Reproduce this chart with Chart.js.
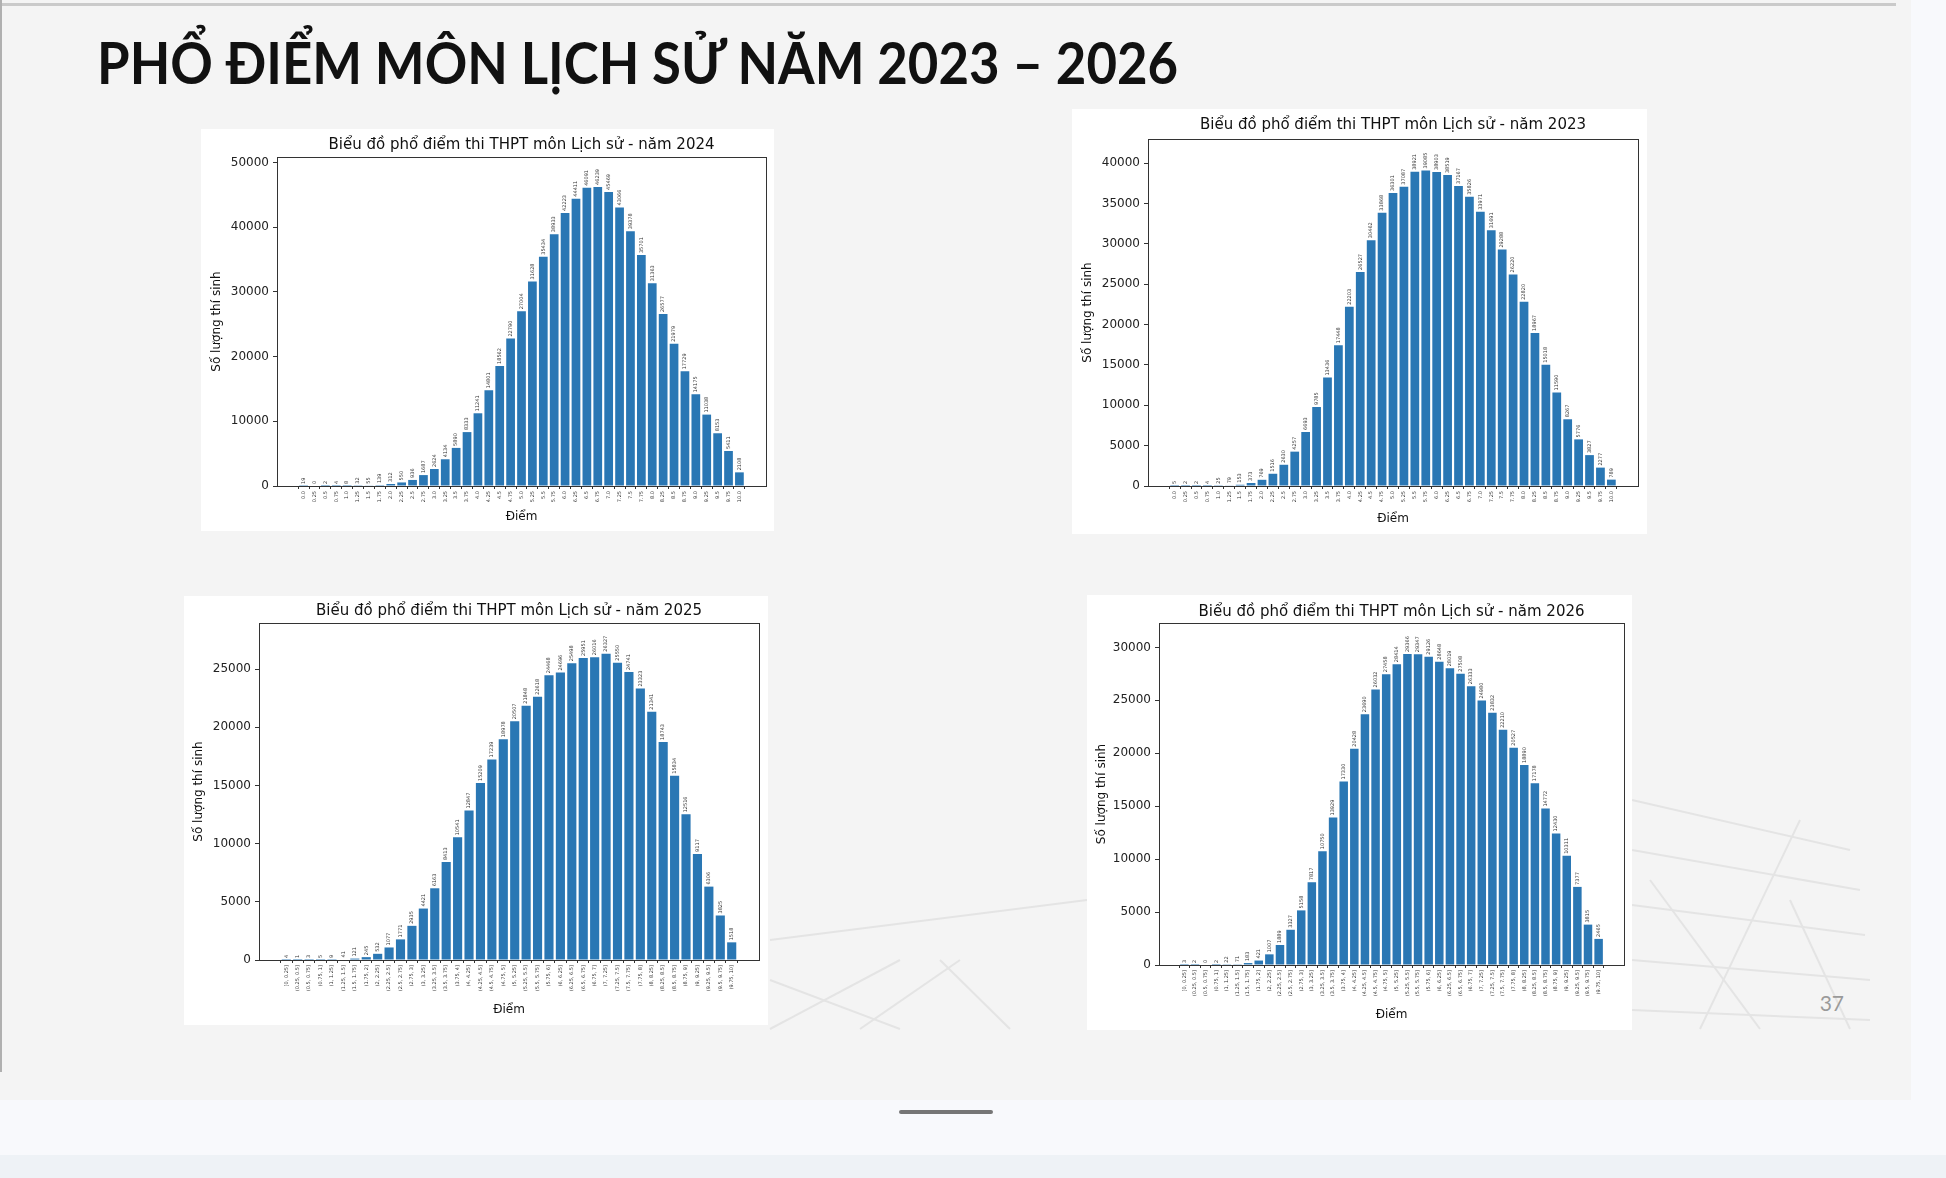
<!DOCTYPE html>
<html lang="vi">
<head>
<meta charset="utf-8">
<title>Phổ điểm môn Lịch sử</title>
<script src="https://cdn.jsdelivr.net/npm/chart.js@4.4.1/dist/chart.umd.min.js"></script>
<style>
  html, body { margin: 0; padding: 0; }
  body { width: 1946px; height: 1178px; position: relative; overflow: hidden; background: #eef2f6; }
  #duoi { position: absolute; left: 0; top: 0; width: 1946px; height: 1155px; background: #f8f9fc; }
  #slide { position: absolute; left: 0; top: 0; width: 1911px; height: 1100px; background: #f4f4f4; }
  #vienTren { position: absolute; left: 0; top: 3px; width: 1896px; height: 3px; background: #cacaca; }
  #vienTrai { position: absolute; left: 0; top: 0; width: 2px; height: 1072px; background: #b0b0b0; }
  #luoi { position: absolute; left: 0; top: 0; }
  #tieuDe {
    position: absolute; left: 97px; top: 34px; margin: 0;
    font-family: "Lato", "Open Sans", sans-serif; font-weight: 700; font-size: 57px; line-height: 1;
    color: #111; white-space: nowrap;
    transform: scaleX(0.925); transform-origin: 0 0;
  }
  .khung { position: absolute; background: #fff; }
  .khung canvas { display: block; }
  #soTrang { position: absolute; left: 1790px; top: 990px; width: 54px; text-align: right;
    font-family: "Lato", sans-serif; font-size: 21px; color: #9a9a9a; }
  #thanhKeo { position: absolute; left: 899px; top: 1110px; width: 94px; height: 4px; border-radius: 2px; background: #767676; }
</style>
</head>
<body>
<div id="duoi"></div>
<div id="slide"></div>
<svg id="luoi" width="1946" height="1100">
  <g stroke="#e4e4e4" stroke-width="2" fill="none">
    <line x1="770" y1="980" x2="900" y2="1029"/>
    <line x1="770" y1="1029" x2="900" y2="960"/>
    <line x1="860" y1="1029" x2="960" y2="960"/>
    <line x1="940" y1="960" x2="1010" y2="1029"/>
    <line x1="770" y1="940" x2="1087" y2="900"/>
    <line x1="1632" y1="800" x2="1850" y2="850"/>
    <line x1="1632" y1="850" x2="1860" y2="890"/>
    <line x1="1632" y1="905" x2="1865" y2="935"/>
    <line x1="1632" y1="960" x2="1870" y2="980"/>
    <line x1="1632" y1="1010" x2="1870" y2="1020"/>
    <line x1="1700" y1="1029" x2="1800" y2="820"/>
    <line x1="1760" y1="1029" x2="1650" y2="880"/>
    <line x1="1850" y1="1029" x2="1790" y2="900"/>
  </g>
</svg>
<div id="vienTren"></div>
<div id="vienTrai"></div>
<h1 id="tieuDe">PHỔ ĐIỂM MÔN LỊCH SỬ NĂM 2023 – 2026</h1>

<div class="khung" style="left:201px; top:129px;"><canvas id="bieuDo2024"></canvas></div>
<div class="khung" style="left:1072px; top:109px;"><canvas id="bieuDo2023"></canvas></div>
<div class="khung" style="left:184px; top:596px;"><canvas id="bieuDo2025"></canvas></div>
<div class="khung" style="left:1087px; top:595px;"><canvas id="bieuDo2026"></canvas></div>

<div id="soTrang">37</div>
<div id="thanhKeo"></div>

<script>
// nhãn trục x
const diemLe = ["0.0", "0.25", "0.5", "0.75", "1.0", "1.25", "1.5", "1.75", "2.0", "2.25",
  "2.5", "2.75", "3.0", "3.25", "3.5", "3.75", "4.0", "4.25", "4.5", "4.75",
  "5.0", "5.25", "5.5", "5.75", "6.0", "6.25", "6.5", "6.75", "7.0", "7.25",
  "7.5", "7.75", "8.0", "8.25", "8.5", "8.75", "9.0", "9.25", "9.5", "9.75", "10.0"];

const khoangDiem = ["[0, 0.25]", "(0.25, 0.5]", "(0.5, 0.75]", "(0.75, 1]", "(1, 1.25]",
  "(1.25, 1.5]", "(1.5, 1.75]", "(1.75, 2]", "(2, 2.25]", "(2.25, 2.5]",
  "(2.5, 2.75]", "(2.75, 3]", "(3, 3.25]", "(3.25, 3.5]", "(3.5, 3.75]",
  "(3.75, 4]", "(4, 4.25]", "(4.25, 4.5]", "(4.5, 4.75]", "(4.75, 5]",
  "(5, 5.25]", "(5.25, 5.5]", "(5.5, 5.75]", "(5.75, 6]", "(6, 6.25]",
  "(6.25, 6.5]", "(6.5, 6.75]", "(6.75, 7]", "(7, 7.25]", "(7.25, 7.5]",
  "(7.5, 7.75]", "(7.75, 8]", "(8, 8.25]", "(8.25, 8.5]", "(8.5, 8.75]",
  "(8.75, 9]", "(9, 9.25]", "(9.25, 9.5]", "(9.5, 9.75]", "(9.75, 10]"];

// số lượng thí sinh theo từng mức điểm
const soLuong2024 = [19, 0, 2, 4, 8, 32, 55, 139, 312, 550,
  936, 1687, 2624, 4134, 5890, 8333, 11241, 14801, 18562, 22790,
  27004, 31628, 35434, 38933, 42223, 44411, 46091, 46239, 45469, 43066,
  39378, 35701, 31363, 26577, 21979, 17729, 14175, 11038, 8153, 5411, 2108];

const soLuong2023 = [5, 2, 2, 4, 25, 79, 153, 373, 769, 1516,
  2630, 4257, 6693, 9785, 13436, 17448, 22203, 26527, 30462, 33868,
  36301, 37087, 38921, 39085, 38903, 38519, 37167, 35826, 33971, 31691,
  29288, 26220, 22820, 18967, 15018, 11590, 8267, 5776, 3827, 2277, 789];

const soLuong2025 = [4, 1, 3, 5, 9, 41, 121, 245, 532, 1077,
  1771, 2935, 4421, 6163, 8413, 10541, 12847, 15209, 17239, 18978,
  20507, 21848, 22618, 24468, 24696, 25498, 25951, 26016, 26327, 25550,
  24741, 23323, 21341, 18743, 15834, 12516, 9117, 6306, 3825, 1518];

const soLuong2026 = [3, 2, 0, 2, 22, 71, 183, 421, 1007, 1889,
  3327, 5158, 7817, 10750, 13929, 17330, 20428, 23690, 26032, 27458,
  28414, 29366, 29347, 29126, 28648, 28019, 27508, 26333, 24980, 23832,
  22210, 20527, 18890, 17178, 14772, 12430, 10311, 7377, 3815, 2465];

const coChuTieuDe = 15;
const coChuTruc = 12;

// khung trục (viền 4 phía kiểu matplotlib)
const khungTruc = {
  id: "khungTruc",
  afterDraw(chart) {
    const a = chart.chartArea;
    const ctx = chart.ctx;
    ctx.save();
    ctx.strokeStyle = "#333";
    ctx.lineWidth = 1;
    ctx.strokeRect(Math.round(a.left) + 0.5, Math.round(a.top) + 0.5,
      Math.round(a.right - a.left), Math.round(a.bottom - a.top));
    ctx.restore();
  }
};

// số trên đầu mỗi cột, xoay dọc
const nhanGiaTri = {
  id: "nhanGiaTri",
  afterDatasetsDraw(chart) {
    const ctx = chart.ctx;
    const meta = chart.getDatasetMeta(0);
    const data = chart.data.datasets[0].data;
    ctx.save();
    ctx.font = '5px "DejaVu Sans"';
    ctx.fillStyle = "#333";
    ctx.textAlign = "left";
    ctx.textBaseline = "middle";
    meta.data.forEach(function (cot, i) {
      ctx.save();
      ctx.translate(cot.x, cot.y - 2);
      ctx.rotate(-Math.PI / 2);
      ctx.fillText(String(data[i].y), 0, 0);
      ctx.restore();
    });
    ctx.restore();
  }
};

function veBieuDo(id, nhan, soLuong, tieuDe, buoc, k) {
  const n = soLuong.length;
  const le = 0.05 * (n - 0.2);
  const nuaTieuDe = coChuTieuDe * 1.2 / 2;
  const nuaTruc = coChuTruc * 1.2 / 2;
  const canvas = document.getElementById(id);
  canvas.width = k.w;
  canvas.height = k.h;

  new Chart(canvas, {
    type: "bar",
    data: {
      datasets: [{
        data: soLuong.map(function (v, i) { return { x: i, y: v }; }),
        backgroundColor: "#2a77b4",
        borderWidth: 0,
        barPercentage: 0.8,
        categoryPercentage: 1
      }]
    },
    options: {
      responsive: false,
      animation: false,
      layout: { padding: { left: 0, right: k.w - k.ar, top: 0, bottom: 0 } },
      plugins: {
        legend: { display: false },
        tooltip: { enabled: false },
        title: {
          display: true,
          fullSize: false,
          text: tieuDe,
          color: "#111",
          font: { family: "DejaVu Sans", size: coChuTieuDe, weight: "normal" },
          padding: { top: k.tc - nuaTieuDe, bottom: k.at - k.tc - nuaTieuDe }
        }
      },
      scales: {
        x: {
          type: "linear",
          offset: false,
          min: -0.4 - le,
          max: n - 0.6 + le,
          afterBuildTicks: function (s) { s.ticks = nhan.map(function (_, i) { return { value: i }; }); },
          afterFit: function (s) { s.height = k.h - k.ab; },
          ticks: {
            autoSkip: false, minRotation: 90, maxRotation: 90, padding: 2,
            font: { family: "DejaVu Sans", size: 5 }, color: "#333",
            callback: function (v) { return nhan[v]; }
          },
          grid: { drawOnChartArea: false, tickLength: 3, color: "#333" },
          border: { display: false },
          title: {
            display: true, text: "Điểm", color: "#111",
            font: { family: "DejaVu Sans", size: coChuTruc },
            padding: { top: 0, bottom: k.h - k.xt - nuaTruc }
          }
        },
        y: {
          min: 0,
          max: Math.max.apply(null, soLuong) * 1.1,
          afterBuildTicks: function (s) {
            const moc = [];
            for (let v = 0; v <= s.max; v += buoc) moc.push({ value: v });
            s.ticks = moc;
          },
          afterFit: function (s) { s.width = k.al; },
          ticks: {
            padding: 4, color: "#222", font: { family: "DejaVu Sans", size: coChuTruc },
            callback: function (v) { return String(v); }
          },
          grid: { drawOnChartArea: false, tickLength: 4, color: "#333" },
          border: { display: false },
          title: {
            display: true, text: "Số lượng thí sinh", color: "#111",
            font: { family: "DejaVu Sans", size: coChuTruc },
            padding: { top: k.yt - nuaTruc, bottom: 0 }
          }
        }
      }
    },
    plugins: [khungTruc, nhanGiaTri]
  });
}

document.addEventListener("DOMContentLoaded", function () {
  veBieuDo("bieuDo2024", diemLe, soLuong2024, "Biểu đồ phổ điểm thi THPT môn Lịch sử - năm 2024", 10000,
    { w: 573, h: 402, al: 76, at: 28, ar: 565, ab: 357, tc: 16, yt: 16, xt: 388 });
  veBieuDo("bieuDo2023", diemLe, soLuong2023, "Biểu đồ phổ điểm thi THPT môn Lịch sử - năm 2023", 5000,
    { w: 575, h: 425, al: 76, at: 30, ar: 566, ab: 377, tc: 16, yt: 16, xt: 410 });
  veBieuDo("bieuDo2025", khoangDiem, soLuong2025, "Biểu đồ phổ điểm thi THPT môn Lịch sử - năm 2025", 5000,
    { w: 584, h: 429, al: 75, at: 27, ar: 575, ab: 364, tc: 15, yt: 15, xt: 414 });
  veBieuDo("bieuDo2026", khoangDiem, soLuong2026, "Biểu đồ phổ điểm thi THPT môn Lịch sử - năm 2026", 5000,
    { w: 545, h: 435, al: 72, at: 28, ar: 537, ab: 370, tc: 17, yt: 15, xt: 420 });
});
</script>
</body>
</html>
